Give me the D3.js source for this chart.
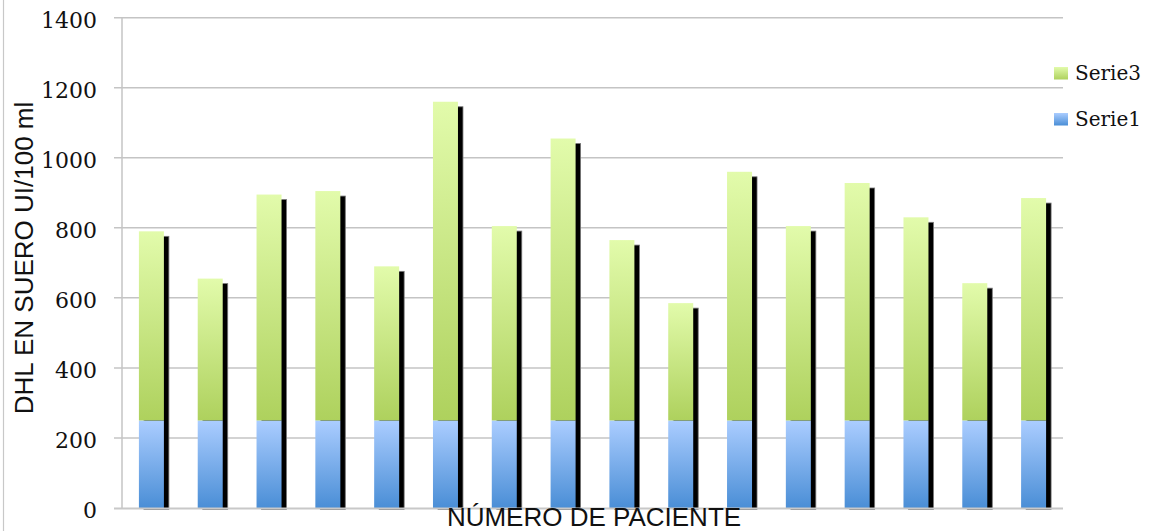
<!DOCTYPE html>
<html>
<head>
<meta charset="utf-8">
<script src="https://cdn.jsdelivr.net/npm/d3@7"></script>
<style>
  html, body { margin: 0; padding: 0; background: #fff; }
  svg { display: block; }
</style>
</head>
<body>
<svg id="chart" width="1151" height="531"></svg>
<script>
// Patients 1..16
const patients = ["1","2","3","4","5","6","7","8","9","10","11","12","13","14","15","16"];
// Serie1: base level of DHL (UI/100 ml)
const serie1 = [250,250,250,250,250,250,250,250,250,250,250,250,250,250,250,250];
// Serie3: amount above the base (stack total = serie1 + serie3)
const serie3 = [540,405,645,655,440,910,555,805,515,335,710,555,678,580,392,635];
const yTicks = [0,200,400,600,800,1000,1200,1400];
const seriesNames = ["Serie3","Serie1"];

const svg = d3.select("#chart");
const W = 1151, H = 531;
const plot = { left: 122, right: 1063, top: 17.7, bottom: 508 };

const x = d3.scaleBand().domain(patients).range([plot.left, plot.right]).paddingInner(0.575).paddingOuter(0.2875);
const y = d3.scaleLinear().domain([0, 1400]).range([plot.bottom, plot.top]);

const defs = svg.append("defs");
const gBlue = defs.append("linearGradient").attr("id", "gBlue").attr("x1", 0).attr("y1", 0).attr("x2", 0).attr("y2", 1);
gBlue.append("stop").attr("offset", "0%").attr("stop-color", "#abcdff");
gBlue.append("stop").attr("offset", "100%").attr("stop-color", "#4a8ed6");
const gGreen = defs.append("linearGradient").attr("id", "gGreen").attr("x1", 0).attr("y1", 0).attr("x2", 0).attr("y2", 1);
gGreen.append("stop").attr("offset", "0%").attr("stop-color", "#e2fbab");
gGreen.append("stop").attr("offset", "100%").attr("stop-color", "#aed15d");
const blur = defs.append("filter").attr("id", "soft").attr("x", "-20%").attr("y", "-5%").attr("width", "140%").attr("height", "110%");
blur.append("feGaussianBlur").attr("stdDeviation", 0.6);

// outer frame edge
svg.append("line").attr("x1", 3.5).attr("x2", 3.5).attr("y1", 0).attr("y2", H)
  .attr("stroke", "#c8c8c8").attr("stroke-width", 1.2);

// grid lines
svg.append("g").selectAll("line").data(yTicks.filter(d => d > 0)).join("line")
  .attr("x1", plot.left - 8).attr("x2", plot.right)
  .attr("y1", d => y(d)).attr("y2", d => y(d))
  .attr("stroke", "#c4c4c4").attr("stroke-width", 1.5);

// vertical axis
svg.append("line").attr("x1", plot.left).attr("x2", plot.left)
  .attr("y1", plot.top).attr("y2", plot.bottom)
  .attr("stroke", "#c4c4c4").attr("stroke-width", 1.5);

// tick labels
svg.append("g").selectAll("text").data(yTicks).join("text")
  .attr("x", 97).attr("y", d => y(d) + 10)
  .attr("text-anchor", "end")
  .attr("font-family", "DejaVu Serif")
  .attr("font-size", 22).attr("fill", "#111")
  .text(d => d);

// bars
const bw = x.bandwidth();
const bars = svg.append("g").selectAll("g").data(patients).join("g");
bars.append("rect")
  .attr("x", (d, i) => x(d) + 5)
  .attr("y", (d, i) => y(serie1[i] + serie3[i]) + 5)
  .attr("width", bw)
  .attr("height", (d, i) => plot.bottom + 1.5 - (y(serie1[i] + serie3[i]) + 5))
  .attr("fill", "#000").attr("stroke", "#777").attr("stroke-width", 0.8)
  .attr("filter", "url(#soft)");
bars.append("rect")
  .attr("x", d => x(d))
  .attr("y", (d, i) => y(serie1[i]))
  .attr("width", bw)
  .attr("height", (d, i) => y(0) - y(serie1[i]))
  .attr("fill", "url(#gBlue)");
bars.append("rect")
  .attr("x", d => x(d))
  .attr("y", (d, i) => y(serie1[i] + serie3[i]))
  .attr("width", bw)
  .attr("height", (d, i) => y(serie1[i]) - y(serie1[i] + serie3[i]))
  .attr("fill", "url(#gGreen)");

// baseline
svg.append("line").attr("x1", plot.left - 8).attr("x2", plot.right)
  .attr("y1", plot.bottom + 0.5).attr("y2", plot.bottom + 0.5)
  .attr("stroke", "#c8c8c8").attr("stroke-width", 2);

// legend
const legend = svg.append("g").selectAll("g").data(seriesNames).join("g")
  .attr("transform", (d, i) => `translate(1054, ${67 + i * 46})`);
legend.append("rect").attr("width", 14).attr("height", 12.5)
  .attr("fill", d => d === "Serie3" ? "url(#gGreen)" : "url(#gBlue)");
legend.append("text").attr("x", 21).attr("y", 12.5)
  .attr("font-family", "DejaVu Serif").attr("font-size", 20).attr("fill", "#111")
  .text(d => d);

// axis titles
svg.append("text")
  .attr("transform", "translate(33, 258) rotate(-90)")
  .attr("text-anchor", "middle")
  .attr("font-family", "Liberation Sans, Arial, sans-serif")
  .attr("font-size", 26).attr("fill", "#111")
  .text("DHL EN SUERO UI/100 ml");
svg.append("text")
  .attr("x", 594).attr("y", 526)
  .attr("text-anchor", "middle")
  .attr("font-family", "Liberation Sans, Arial, sans-serif")
  .attr("font-size", 26).attr("fill", "#111")
  .text("NÚMERO DE PACIENTE");
</script>
</body>
</html>
